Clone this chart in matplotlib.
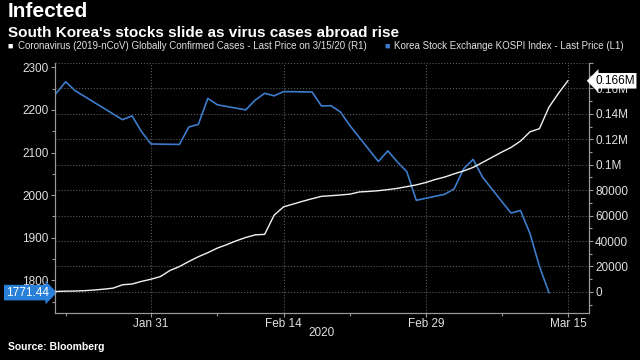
import matplotlib
matplotlib.use("Agg")
import matplotlib.pyplot as plt
import matplotlib.dates as mdates
import matplotlib.ticker as mticker
import pandas as pd

# KOSPI index closes
kospi_dates = pd.to_datetime([
    "2020-01-21", "2020-01-22", "2020-01-23", "2020-01-28", "2020-01-29",
    "2020-01-30", "2020-01-31", "2020-02-03", "2020-02-04", "2020-02-05",
    "2020-02-06", "2020-02-07", "2020-02-10", "2020-02-11", "2020-02-12",
    "2020-02-13", "2020-02-14", "2020-02-17", "2020-02-18", "2020-02-19",
    "2020-02-20", "2020-02-21", "2020-02-24", "2020-02-25", "2020-02-26",
    "2020-02-27", "2020-02-28", "2020-03-02", "2020-03-03", "2020-03-04",
    "2020-03-05", "2020-03-06", "2020-03-09", "2020-03-10", "2020-03-11",
    "2020-03-12", "2020-03-13",
])
kospi = [
    2239, 2266, 2245, 2177, 2186,
    2149, 2120, 2119, 2160, 2166,
    2227, 2212, 2200, 2223, 2239,
    2233, 2243, 2242, 2209, 2210,
    2195, 2163, 2079, 2104, 2078,
    2055, 1988, 2002, 2015, 2062,
    2084, 2042, 1958, 1964, 1910,
    1833, 1771.44,
]

# global confirmed cases, daily Jan 21 - Mar 15
cases_dates = pd.date_range("2020-01-21", "2020-03-15", freq="D")
cases = [
    300, 560, 650, 940, 1430, 2120, 2930, 5580, 6170, 8230,
    9930, 12040, 16790, 19890, 23900, 27640, 30800, 34400, 37130, 40160,
    42770, 44810, 45230, 60370, 66890, 69030, 71230, 73260, 75140, 75640,
    76200, 76840, 78600, 78990, 79570, 80420, 81400, 82760, 84120, 86010,
    88370, 90310, 92840, 95120, 97890, 101800, 105840, 109840, 113580, 118580,
    125870, 128340, 145190, 156100, 166000,
]

major_dates = pd.to_datetime(["2020-01-31", "2020-02-14", "2020-02-29", "2020-03-15"])
minor_dates = pd.to_datetime(["2020-01-22", "2020-02-07", "2020-02-21", "2020-03-08"])

BG = "black"
BLUE = "#3d7ccc"
TXT = "#e0e0e0"
GRID = "#5a5a5a"
SPINE = "#9a9a9a"
FONT = ["Liberation Sans", "DejaVu Sans"]
plt.rcParams["font.family"] = FONT

fig = plt.figure(figsize=(6.4, 3.6), dpi=100, facecolor=BG)
ax = fig.add_axes([0.086, 0.131, 0.834, 0.694], facecolor=BG)
ax2 = ax.twinx()

ax.plot(kospi_dates, kospi, color=BLUE, lw=1.2, zorder=3)
ax2.plot(cases_dates, cases, color="#f2f2f2", lw=1.0, zorder=3)

ax.set_xlim(pd.Timestamp("2020-01-20 21:00"), pd.Timestamp("2020-03-17 05:00"))
ax.set_ylim(1724, 2310)
ax2.set_ylim(-16500, 180000)

ax.set_xticks(major_dates)
ax.set_xticks(minor_dates, minor=True)
ax.xaxis.set_major_formatter(mdates.DateFormatter("%b %-d"))
ax.yaxis.set_major_locator(mticker.MultipleLocator(100))
ax.yaxis.set_minor_locator(mticker.MultipleLocator(50))
ax2.yaxis.set_major_locator(mticker.MultipleLocator(20000))
ax2.yaxis.set_minor_locator(mticker.MultipleLocator(10000))


def fmt_cases(v, pos):
    if v > 170000:
        return ""
    if v >= 100000:
        return f"{v / 1e6:g}M"
    return f"{int(v)}"


ax2.yaxis.set_major_formatter(mticker.FuncFormatter(fmt_cases))

for a in (ax, ax2):
    for s in a.spines.values():
        s.set_color(SPINE)
        s.set_linewidth(0.8)
    a.spines["top"].set_visible(False)
    a.tick_params(colors=SPINE, labelcolor=TXT, labelsize=8.5, length=3, width=0.8, pad=1.5)
    a.tick_params(which="minor", colors=SPINE, length=2, width=0.8)

ax.tick_params(axis="x", pad=1)
ax.grid(axis="x", which="major", color=GRID, ls=":", lw=0.8)
ax2.grid(axis="y", which="major", color=GRID, ls=":", lw=0.8)
ax.set_axisbelow(True)

# year label
ax.text(0.5, -0.08, "2020", transform=ax.transAxes, ha="center", va="center",
        color=TXT, fontsize=8.5)

# last value tags
ax.annotate(f"{kospi[-1]:.2f}", xy=(0, kospi[-1]), xycoords=("axes fraction", "data"),
            xytext=(-4.5, 0), textcoords="offset points", ha="right", va="center",
            color="white", fontsize=8.5,
            bbox=dict(boxstyle="rarrow,pad=0.15", fc="#2a7fd9", ec="none"))
ax2.annotate("0.166M", xy=(1, cases[-1]), xycoords=("axes fraction", "data"),
             xytext=(4.5, 0), textcoords="offset points", ha="left", va="center",
             color="black", fontsize=8.5,
             bbox=dict(boxstyle="larrow,pad=0.15", fc="white", ec="none"))

# titles and legend
fig.text(0.012, 0.967, "Infected", color="white", fontsize=15, fontweight="bold",
         va="center", ha="left")
fig.text(0.012, 0.908, "South Korea's stocks slide as virus cases abroad rise",
         color="white", fontsize=11, fontweight="bold", va="center", ha="left")
fig.text(0.012, 0.872, "\u25a0", color="white", fontsize=6.5, va="center", ha="left")
fig.text(0.028, 0.872,
         "Coronavirus (2019-nCoV) Globally Confirmed Cases - Last Price on 3/15/20 (R1)",
         color=TXT, fontsize=7, va="center", ha="left")
fig.text(0.600, 0.872, "\u25a0", color=BLUE, fontsize=6.5, va="center", ha="left")
fig.text(0.616, 0.872, "Korea Stock Exchange KOSPI Index - Last Price (L1)",
         color=TXT, fontsize=7, va="center", ha="left")
fig.text(0.012, 0.036, "Source: Bloomberg", color="white", fontsize=7.5,
         fontweight="bold", va="center", ha="left")

fig.savefig("out.png", dpi=100, facecolor=BG)
